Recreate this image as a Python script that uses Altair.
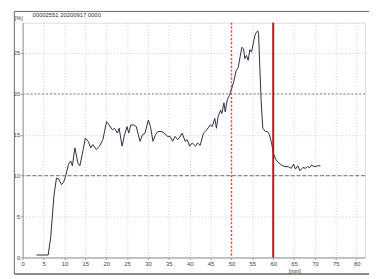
import altair as alt
import pandas as pd

# ---- data ----
travel_mm = [3.3, 6.1, 6.7, 7.5, 8.1, 8.6, 9.3, 9.8, 10.2, 11.0, 11.5, 11.9, 12.5, 13.2, 13.7, 14.5,
             15.0, 15.7, 16.3, 16.8, 17.6, 18.4, 19.2, 20.1, 20.7, 21.5, 22.0, 22.7, 23.1, 23.8, 24.4,
             25.0, 25.4, 25.9, 26.6, 27.2, 27.7, 28.1, 28.7, 29.3, 30.1, 30.6, 31.2, 31.8, 32.4, 33.2,
             33.9, 34.7, 35.3, 35.9, 36.5, 37.1, 37.6, 38.2, 38.9, 39.4, 40.0, 40.6, 41.4, 41.9, 42.5,
             43.3, 44.1, 44.9, 45.4, 46.0, 46.4, 46.8, 47.4, 47.7, 48.2, 48.5, 49.0, 49.5, 49.9, 50.5,
             51.1, 51.6, 52.1, 52.5, 52.9, 53.2, 53.6, 54.0, 54.4, 54.8, 55.2, 55.6, 55.9, 56.3, 56.5,
             56.8, 57.1, 57.5, 58.1, 58.6, 59.1, 59.6, 60.0, 60.6, 61.2, 62.0, 62.8, 63.6, 64.3, 64.9,
             65.3, 65.9, 66.4, 67.1, 67.7, 68.2, 68.8, 69.2, 69.8, 70.6, 71.3]
percent = [0.3, 0.3, 2.4, 7.6, 9.7, 9.6, 8.9, 9.2, 9.8, 11.4, 11.8, 11.2, 13.4, 11.6, 11.2, 13.2,
           14.6, 14.2, 13.4, 13.8, 13.2, 13.6, 14.4, 16.6, 16.2, 15.6, 15.8, 15.2, 15.8, 13.6, 15.0,
           16.0, 15.2, 16.2, 16.2, 16.0, 15.0, 14.2, 15.0, 15.2, 16.8, 16.0, 14.2, 15.0, 15.4, 15.4,
           15.2, 14.8, 14.8, 14.2, 14.8, 14.4, 14.7, 15.2, 14.2, 14.4, 13.6, 14.0, 13.6, 14.0, 13.7,
           15.2, 15.6, 16.2, 16.0, 17.0, 15.8, 17.2, 18.0, 17.6, 18.9, 17.8, 19.3, 19.8, 20.4, 21.4,
           22.8, 23.2, 24.6, 25.7, 25.5, 24.3, 24.7, 24.1, 25.4, 25.1, 26.1, 27.1, 27.5, 27.7, 27.3,
           23.1, 19.2, 15.8, 15.4, 15.4, 15.0, 14.0, 12.8, 12.0, 11.6, 11.3, 11.1, 11.1, 10.9, 11.4,
           10.8, 11.2, 10.6, 11.0, 10.9, 11.1, 11.0, 11.3, 11.1, 11.2, 11.2]

x_ticks = [0, 5, 10, 15, 20, 25, 30, 35, 40, 45, 50, 55, 60, 65, 70, 75, 80]
y_ticks = [0, 5, 10, 15, 20, 25]
header_text = "00002551   20200917   0000"
y_unit = "[%]"
x_unit = "[mm]"
h_dashed = [10]
h_dotted = [20]
v_dotted_red = [50]
v_solid_red = [60]

X_DOM = [0, 82]
Y_DOM = [0, 28.7]
FONT = "Liberation Sans"

df = pd.DataFrame({"x": travel_mm, "y": percent})

xs = alt.Scale(domain=X_DOM, nice=False, zero=False)
ys = alt.Scale(domain=Y_DOM, nice=False, zero=False)

axis_common = dict(
    title=None, grid=True, gridColor="#d0d0d0", gridDash=[1, 2],
    labelFontSize=6, labelFont=FONT, labelColor="#444", labelPadding=1,
    labelOverlap=False, labelFlush=False,
    tickSize=2, tickColor="#999", domainColor="#999")
x_axis = alt.Axis(values=x_ticks, **axis_common)
y_axis = alt.Axis(values=y_ticks, **axis_common)

line = alt.Chart(df).mark_line(color="#2b2b45", strokeWidth=1).encode(
    x=alt.X("x:Q", scale=xs, axis=x_axis),
    y=alt.Y("y:Q", scale=ys, axis=y_axis),
)

hd = alt.Chart(pd.DataFrame({"y": h_dashed})).mark_rule(
    color="#8a8a8a", strokeDash=[4, 2], strokeWidth=1.3).encode(
    y=alt.Y("y:Q", scale=ys, axis=y_axis))
hdot = alt.Chart(pd.DataFrame({"y": h_dotted})).mark_rule(
    color="#999999", strokeDash=[2, 2], strokeWidth=1.1).encode(
    y=alt.Y("y:Q", scale=ys, axis=y_axis))
vr1 = alt.Chart(pd.DataFrame({"x": v_dotted_red})).mark_rule(
    color="#d42a2a", strokeDash=[2, 2], strokeWidth=1.5, opacity=0.85).encode(
    x=alt.X("x:Q", scale=xs, axis=x_axis))
vr2 = alt.Chart(pd.DataFrame({"x": v_solid_red})).mark_rule(
    color="#b01818", strokeWidth=2).encode(
    x=alt.X("x:Q", scale=xs, axis=x_axis))

# outer frame (page decoration)
frame_left = alt.Chart().mark_rule(color="#666", strokeWidth=1).encode(
    x=alt.value(-8.5), y=alt.value(-11.5), y2=alt.value(257))
frame_top = alt.Chart().mark_rule(color="#666", strokeWidth=1).encode(
    x=alt.value(-8.5), x2=alt.value(356), y=alt.value(-11.5))
frame_bottom = alt.Chart().mark_rule(color="#666", strokeWidth=1.5).encode(
    x=alt.value(-8.5), x2=alt.value(356), y=alt.value(257))

t_header = alt.Chart().mark_text(fontSize=6, font=FONT, color="#333", align="left",
                                 baseline="middle", text=header_text).encode(
    x=alt.value(10), y=alt.value(-8))
t_yunit = alt.Chart().mark_text(fontSize=5.5, font=FONT, color="#333", align="center",
                                baseline="middle", text=y_unit).encode(
    x=alt.value(-4), y=alt.value(-5))
t_xunit = alt.Chart().mark_text(fontSize=5.5, font=FONT, color="#333", align="center",
                                baseline="middle", text=x_unit).encode(
    x=alt.value(278), y=alt.value(254))

chart = alt.layer(line, hd, hdot, vr1, vr2, frame_left, frame_top, frame_bottom,
                  t_header, t_yunit, t_xunit).properties(
    width=350, height=240,
    autosize=alt.AutoSizeParams(type="none"),
    padding={"left": 15, "top": 12, "right": 4, "bottom": 19},
).configure_view(stroke="#999", strokeWidth=1).configure(background="white")

chart.save("out.html", embed_options={"renderer": "svg", "actions": False})
